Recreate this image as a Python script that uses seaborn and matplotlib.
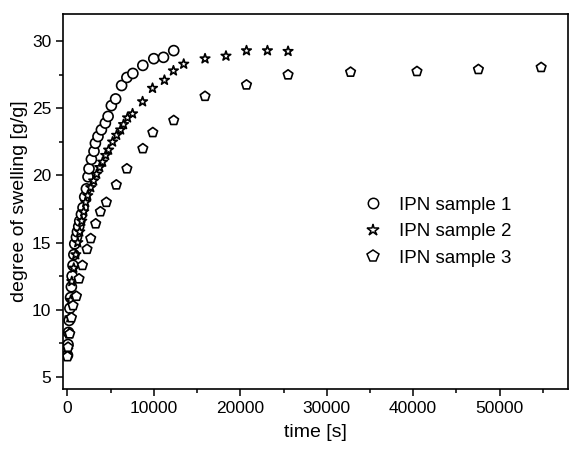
import numpy as np
import pandas as pd
import matplotlib
matplotlib.use("Agg")
import matplotlib.pyplot as plt
import seaborn as sns
from matplotlib.ticker import MultipleLocator

# IPN sample 1 (circles)
t1 = [0, 60, 120, 200, 280, 360, 450, 540, 640, 740, 842, 1038, 1153, 1303, 1419,
      1615, 1799, 1995, 2191, 2376, 2491, 2768, 3068, 3229, 3529, 3922, 4383, 4700,
      5075, 5571, 6263, 6874, 7566, 8720, 9988, 11107, 12295]
s1 = [6.6, 7.4, 8.3, 9.2, 10.1, 10.9, 11.7, 12.5, 13.3, 14.1, 14.9, 15.4, 15.8, 16.2, 16.6,
      17.1, 17.6, 18.4, 19.0, 19.9, 20.5, 21.2, 21.8, 22.4, 22.9, 23.4, 23.9, 24.4,
      25.2, 25.7, 26.7, 27.3, 27.6, 28.2, 28.7, 28.8, 29.3]

# IPN sample 2 (stars)
t2 = [40, 150, 270, 380, 500, 730, 960, 1190, 1420, 1650, 1880, 2110, 2340, 2690, 3030,
      3380, 3730, 4070, 4420, 4760, 5220, 5690, 6150, 6490, 6950, 7530, 8690, 9840,
      11220, 12260, 13450, 15917, 18339, 20715, 23137, 25525]
s2 = [7.0, 8.2, 9.4, 10.7, 12.1, 13.1, 14.1, 15.0, 15.8, 16.6, 17.3, 18.0, 18.5, 19.1, 19.6,
      20.1, 20.6, 21.0, 21.5, 21.9, 22.5, 23.0, 23.4, 23.8, 24.3, 24.6, 25.5, 26.5,
      27.1, 27.8, 28.3, 28.7, 28.9, 29.3, 29.3, 29.25]

# IPN sample 3 (pentagons)
t3 = [0, 69, 265, 461, 646, 1038, 1338, 1730, 2261, 2687, 3264, 3806, 4498, 5652,
      6874, 8720, 9873, 12295, 15917, 20715, 25525, 32757, 40440, 47550, 54810]
s3 = [6.5, 7.2, 8.2, 9.4, 10.3, 11.0, 12.3, 13.3, 14.5, 15.3, 16.4, 17.3, 18.0, 19.3,
      20.5, 22.0, 23.2, 24.1, 25.9, 26.75, 27.5, 27.7, 27.75, 27.9, 28.05]

labels = ["IPN sample 1", "IPN sample 2", "IPN sample 3"]

df = pd.concat([
    pd.DataFrame({"time": t1, "swelling": s1, "sample": labels[0]}),
    pd.DataFrame({"time": t2, "swelling": s2, "sample": labels[1]}),
    pd.DataFrame({"time": t3, "swelling": s3, "sample": labels[2]}),
])

sns.set_style("ticks")
plt.rcParams["font.family"] = ["Liberation Sans", "DejaVu Sans"]
plt.rcParams["text.color"] = "black"
plt.rcParams["axes.labelcolor"] = "black"

fig = plt.figure(figsize=(5.69, 4.5), dpi=100)
ax = fig.add_axes([0.111, 0.136, 0.887, 0.832])

sns.scatterplot(data=df, x="time", y="swelling", style="sample",
                markers={labels[0]: "o", labels[1]: "*", labels[2]: "p"},
                s=52, facecolor="white", edgecolor="black", linewidth=1.2,
                color="white", ax=ax, legend=False)

# legend by hand so markers stay open
for lab, m, ms in zip(labels, ["o", "*", "p"], [7.5, 9, 8.5]):
    ax.plot([], [], ls="none", marker=m, markersize=ms, markerfacecolor="white",
            markeredgecolor="black", markeredgewidth=1.1, label=lab)
ax.legend(loc="center left", bbox_to_anchor=(0.572, 0.42), frameon=False,
          fontsize=13.5, handletextpad=0.6, labelspacing=0.5, borderaxespad=0,
          handlelength=1.5)

ax.set_xlim(-500, 57900)
ax.set_ylim(4.1, 32)
ax.xaxis.set_major_locator(MultipleLocator(10000))
ax.xaxis.set_minor_locator(MultipleLocator(5000))
ax.yaxis.set_major_locator(MultipleLocator(5))
ax.yaxis.set_minor_locator(MultipleLocator(2.5))
ax.tick_params(which="both", direction="out", width=1.1, labelsize=12.5, colors="black")
ax.tick_params(which="major", length=5)
ax.tick_params(which="minor", length=3)
for sp in ax.spines.values():
    sp.set_visible(True)
    sp.set_linewidth(1.2)
    sp.set_color("black")

ax.set_xlabel("time [s]", fontsize=14, labelpad=6)
ax.set_ylabel("degree of swelling [g/g]", fontsize=14, labelpad=3)

fig.savefig("out.png", dpi=100)
